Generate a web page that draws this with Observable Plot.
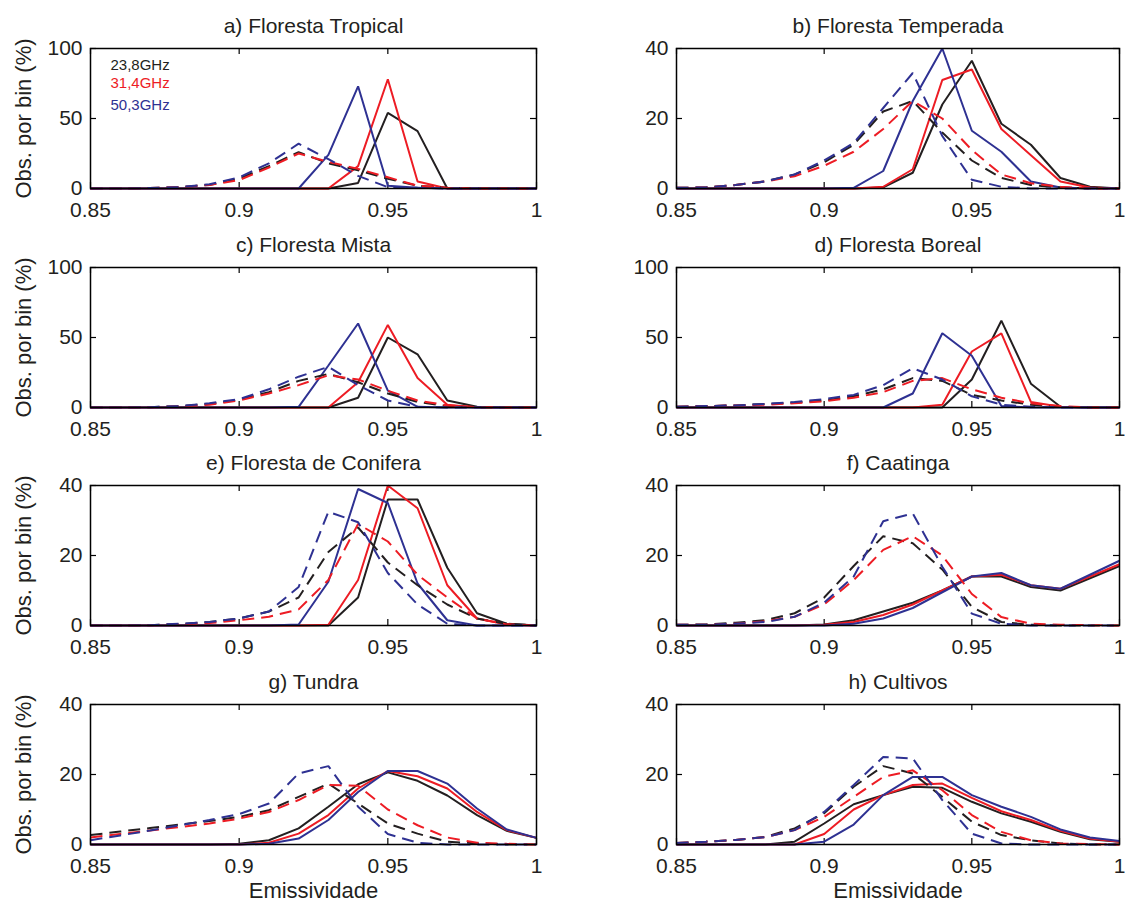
<!DOCTYPE html>
<html>
<head>
<meta charset="utf-8">
<script src="https://cdn.jsdelivr.net/npm/d3@7"></script>
<script src="https://cdn.jsdelivr.net/npm/@observablehq/plot@0.6"></script>
<style>
  body { margin: 0; background: #fff; }
  #chart { position: relative; width: 1125px; height: 903px; overflow: hidden;
           font-family: "Liberation Sans", Arial, Helvetica, sans-serif; }
  #chart svg { position: absolute; }
</style>
</head>
<body>
<div id="chart"></div>
<script>
// ---------- data ----------
const xBins = [0.85, 0.86, 0.87, 0.88, 0.89, 0.90, 0.91, 0.92, 0.93, 0.94, 0.95, 0.96, 0.97, 0.98, 0.99, 1.00];
const xTicks = [0.85, 0.9, 0.95, 1];
const freqLabels = ["23,8GHz", "31,4GHz", "50,3GHz"];
const titles = ["a) Floresta Tropical", "b) Floresta Temperada", "c) Floresta Mista", "d) Floresta Boreal",
                "e) Floresta de Conifera", "f) Caatinga", "g) Tundra", "h) Cultivos"];
const yMaxes = [100, 40, 100, 100, 40, 40, 40, 40];
const yTicks100 = [0, 50, 100];
const yTicks40 = [0, 20, 40];

// a) Floresta Tropical
const trop_s238 = [0, 0, 0, 0, 0, 0, 0, 0, 0, 4, 54, 41, 0, 0, 0, 0];
const trop_s314 = [0, 0, 0, 0, 0, 0, 0, 0, 0, 16, 78, 5, 0, 0, 0, 0];
const trop_s503 = [0, 0, 0, 0, 0, 0, 0, 0, 24, 73, 2, 0.5, 0, 0, 0, 0];
const trop_d238 = [0, 0, 0.3, 1, 2.5, 7, 16, 26, 18, 13, 7, 2, 0.5, 0, 0, 0];
const trop_d314 = [0, 0, 0.3, 1, 2.5, 6, 15, 25, 19, 14, 8, 2, 0.5, 0, 0, 0];
const trop_d503 = [0, 0, 0.3, 1, 3, 8, 18, 32, 21, 9, 1, 0.5, 0, 0, 0, 0];
// b) Floresta Temperada
const temp_s238 = [0, 0, 0, 0, 0, 0, 0, 0.3, 4.5, 24, 36.5, 18.5, 12.5, 3, 0.5, 0];
const temp_s314 = [0, 0, 0, 0, 0, 0, 0, 0.5, 5.5, 31, 34, 17, 9.5, 2, 0.3, 0];
const temp_s503 = [0, 0, 0, 0, 0, 0, 0.2, 5, 25, 40, 16.5, 10.5, 2, 0.3, 0, 0];
const temp_d238 = [0.2, 0.3, 1, 2, 4, 7.5, 12.5, 22, 25, 16, 8, 3, 1, 0.3, 0, 0];
const temp_d314 = [0.2, 0.3, 1, 2, 3.5, 6.5, 10.5, 17, 25, 20, 11, 4, 1.5, 0.5, 0, 0];
const temp_d503 = [0.2, 0.3, 1, 2, 4, 8, 13, 23, 33, 15, 2.5, 0.5, 0, 0, 0, 0];
// c) Floresta Mista
const mist_s238 = [0, 0, 0, 0, 0, 0, 0, 0, 0, 7, 50, 38, 5, 0.5, 0, 0];
const mist_s314 = [0, 0, 0, 0, 0, 0, 0, 0, 0, 18, 59, 21, 2, 0, 0, 0];
const mist_s503 = [0, 0, 0, 0, 0, 0, 0, 0.5, 30, 60, 12, 0.5, 0, 0, 0, 0];
const mist_d238 = [0, 0, 0.2, 1, 2.5, 5.5, 11, 19, 24, 18, 10, 4, 1, 0, 0, 0];
const mist_d314 = [0, 0, 0.2, 0.8, 2, 5, 10, 16, 23, 20, 12, 5, 1.5, 0.3, 0, 0];
const mist_d503 = [0, 0, 0.2, 1, 3, 6, 13, 22, 29, 16, 5, 0.5, 0, 0, 0, 0];
// d) Floresta Boreal
const bor_s238 = [0, 0, 0, 0, 0, 0, 0, 0, 0, 0, 20, 62, 17, 0.5, 0, 0];
const bor_s314 = [0, 0, 0, 0, 0, 0, 0, 0, 0, 2, 40, 53, 4, 0.5, 0, 0];
const bor_s503 = [0, 0, 0, 0, 0, 0, 0, 0, 10, 53, 37, 1, 0, 0, 0, 0];
const bor_d238 = [0.5, 1, 1.5, 2.5, 3.5, 5, 8, 13, 21, 19, 9, 5, 2, 0.5, 0, 0];
const bor_d314 = [0.5, 1, 1.5, 2, 3, 4.5, 7, 11, 19, 21, 13, 7, 3, 1, 0, 0];
const bor_d503 = [0.5, 1, 1.5, 2.5, 4, 6, 9, 16, 28, 20, 8, 2, 0.5, 0, 0, 0];
// e) Floresta de Conifera
const con_s238 = [0, 0, 0, 0, 0, 0, 0, 0, 0, 8, 36, 36, 16.5, 3.5, 0.5, 0];
const con_s314 = [0, 0, 0, 0, 0, 0, 0, 0, 0.2, 13, 40, 33.5, 11.5, 2, 0.3, 0];
const con_s503 = [0, 0, 0, 0, 0, 0, 0, 0.3, 12.5, 39, 35, 12, 1.5, 0, 0, 0];
const con_d238 = [0, 0, 0.1, 0.4, 1, 2, 4, 8, 21, 28, 18, 11.5, 6, 2, 0.5, 0];
const con_d314 = [0, 0, 0.1, 0.3, 0.7, 1.5, 2.5, 4.6, 13, 29, 24, 14.5, 8, 2, 0.3, 0];
const con_d503 = [0, 0, 0.1, 0.5, 1, 2, 4, 11, 32.5, 29.5, 15, 6, 0.5, 0, 0, 0];
// f) Caatinga
const caa_s238 = [0, 0, 0, 0, 0, 0.3, 1.5, 4, 6.5, 10, 14, 14, 11, 10, 13.5, 17];
const caa_s314 = [0, 0, 0, 0, 0, 0.2, 1, 3, 6, 10, 14, 14.5, 11.5, 10.5, 14, 17.5];
const caa_s503 = [0, 0, 0, 0, 0, 0, 0.5, 2, 5, 9.5, 14, 15, 11.5, 10.5, 14.5, 18.5];
const caa_d238 = [0.2, 0.3, 0.8, 1.5, 3.5, 8, 17, 25.5, 23.5, 16, 5.3, 1, 0.2, 0, 0, 0];
const caa_d314 = [0.2, 0.2, 0.5, 1.2, 2.5, 6, 13, 21.6, 25.5, 20, 9, 2.4, 0.5, 0.2, 0.1, 0];
const caa_d503 = [0.2, 0.2, 0.5, 1, 2.5, 6.5, 14, 29.8, 32, 16.8, 3.4, 0.5, 0, 0, 0, 0];
// g) Tundra
const tun_s238 = [0, 0, 0, 0, 0, 0.2, 1.2, 4.6, 10.8, 17.2, 20.6, 18.2, 14, 8.4, 3.9, 1.9];
const tun_s314 = [0, 0, 0, 0, 0, 0, 0.5, 3.1, 8.4, 16, 21, 19.5, 16, 9.3, 4.1, 1.9];
const tun_s503 = [0, 0, 0, 0, 0, 0, 0.2, 1.7, 7, 15, 21, 21, 17.4, 10.3, 4.3, 1.9];
const tun_d238 = [2.7, 3.7, 4.7, 5.7, 6.7, 7.9, 9.8, 13.6, 17.4, 11.7, 6, 3.1, 0.8, 0.3, 0, 0];
const tun_d314 = [2, 3, 4, 5, 6, 7.4, 9.3, 12.7, 17, 16.8, 10, 5.5, 2, 0.5, 0.2, 0];
const tun_d503 = [1.2, 2.6, 4, 5.5, 7, 8.7, 11.7, 20.3, 22.4, 10.8, 3, 0.5, 0, 0, 0, 0];
// h) Cultivos
const cul_s238 = [0, 0, 0, 0, 0.8, 6, 11.5, 14.1, 16.5, 16.2, 12.2, 8.9, 6.5, 3.6, 1.5, 0.8];
const cul_s314 = [0, 0, 0, 0, 0, 3, 10, 14.1, 17, 17.4, 13.3, 9.5, 7, 3.9, 1.7, 0.8];
const cul_s503 = [0, 0, 0, 0, 0, 0.8, 5.7, 14.1, 19.3, 19.3, 14.1, 10.8, 7.9, 4.3, 2, 1];
const cul_d238 = [0.4, 0.8, 1.3, 2.2, 4.6, 8.9, 16.5, 22.4, 20.3, 13.6, 6.5, 2.7, 1.2, 0.3, 0, 0];
const cul_d314 = [0.4, 0.8, 1.3, 2.1, 4.1, 7.9, 13.6, 19.3, 21.2, 15.5, 8.4, 3.6, 1.2, 0.3, 0.1, 0];
const cul_d503 = [0.4, 0.8, 1.3, 2.1, 4.1, 9.3, 17, 25, 24.6, 12.7, 3.1, 0.3, 0, 0, 0, 0];

// ---------- styling ----------
const colors = ["#231f20", "#ed1c24", "#2e3192"];
const panelSeries = [
  [trop_s238, trop_s314, trop_s503, trop_d238, trop_d314, trop_d503],
  [temp_s238, temp_s314, temp_s503, temp_d238, temp_d314, temp_d503],
  [mist_s238, mist_s314, mist_s503, mist_d238, mist_d314, mist_d503],
  [bor_s238, bor_s314, bor_s503, bor_d238, bor_d314, bor_d503],
  [con_s238, con_s314, con_s503, con_d238, con_d314, con_d503],
  [caa_s238, caa_s314, caa_s503, caa_d238, caa_d314, caa_d503],
  [tun_s238, tun_s314, tun_s503, tun_d238, tun_d314, tun_d503],
  [cul_s238, cul_s314, cul_s503, cul_d238, cul_d314, cul_d503]
];

const H = 140;
const rowTops = [0, 219, 437, 656];
const fontFamily = '"Liberation Sans", Arial, Helvetica, sans-serif';
const chart = document.getElementById("chart");

panelSeries.forEach((series, p) => {
  const col = p % 2, row = Math.floor(p / 2);
  const left = col === 0 ? 0 : 560;
  const W = col === 0 ? 446 : 443;
  const ml = col === 0 ? 90 : 116;
  const mr = col === 0 ? 14 : 6;
  const mt = 48;
  const mb = row === 3 ? 59 : 31;
  const yMax = yMaxes[p];
  const yTicks = yMax === 100 ? yTicks100 : yTicks40;

  const lineMarks = series.map((arr, s) => {
    const data = xBins.map((x, i) => ({x, y: arr[i]}));
    return Plot.line(data, {
      x: "x", y: "y",
      stroke: colors[s % 3],
      strokeWidth: 2,
      strokeLinejoin: "miter",
      strokeLinecap: "butt",
      strokeDasharray: s >= 3 ? "12,7" : null
    });
  });

  const marks = [
    Plot.tickX(xTicks, {x: d => d, insetTop: H - 6, stroke: "#000", strokeWidth: 1.2}),
    Plot.tickX(xTicks, {x: d => d, insetBottom: H - 6, stroke: "#000", strokeWidth: 1.2}),
    Plot.tickY(yTicks, {y: d => d, insetRight: W - 6, stroke: "#000", strokeWidth: 1.2}),
    Plot.tickY(yTicks, {y: d => d, insetLeft: W - 6, stroke: "#000", strokeWidth: 1.2}),
    ...lineMarks,
    Plot.frame({stroke: "#000", strokeWidth: 1.5}),
    Plot.axisX(xTicks, {tickSize: 0, tickPadding: 14, tickFormat: d => String(d), fill: "#231f20", fontSize: 21}),
    Plot.axisY(yTicks, {tickSize: 0, tickPadding: 8, fill: "#231f20", fontSize: 21}),
    Plot.text([titles[p]], {frameAnchor: "top", dy: -16, lineAnchor: "bottom", fontSize: 21, fill: "#231f20"})
  ];
  if (col === 0) {
    marks.push(Plot.text(["Obs. por bin (%)"], {frameAnchor: "left", rotate: -90, dx: -60, textAnchor: "middle",
      lineAnchor: "bottom", fontSize: 22, fill: "#231f20"}));
  }
  if (row === 3) {
    marks.push(Plot.text(["Emissividade"], {frameAnchor: "bottom", dy: 53, lineAnchor: "bottom", fontSize: 22, fill: "#231f20"}));
  }
  if (p === 0) {
    const legendDy = [21, 39, 61];
    freqLabels.forEach((lab, k) => {
      marks.push(Plot.text([lab], {frameAnchor: "top-left", dx: 20, dy: legendDy[k], lineAnchor: "bottom",
        textAnchor: "start", fontSize: 15, fill: colors[k]}));
    });
  }

  const svg = Plot.plot({
    width: ml + W + mr,
    height: mt + H + mb,
    marginLeft: ml, marginRight: mr, marginTop: mt, marginBottom: mb,
    x: {domain: [0.85, 1], label: null},
    y: {domain: [0, yMax], label: null},
    style: {fontFamily, fontSize: "21px", background: "transparent", overflow: "visible", color: "#231f20"},
    marks
  });
  svg.style.left = left + "px";
  svg.style.top = rowTops[row] + "px";
  chart.appendChild(svg);
});
</script>
</body>
</html>
